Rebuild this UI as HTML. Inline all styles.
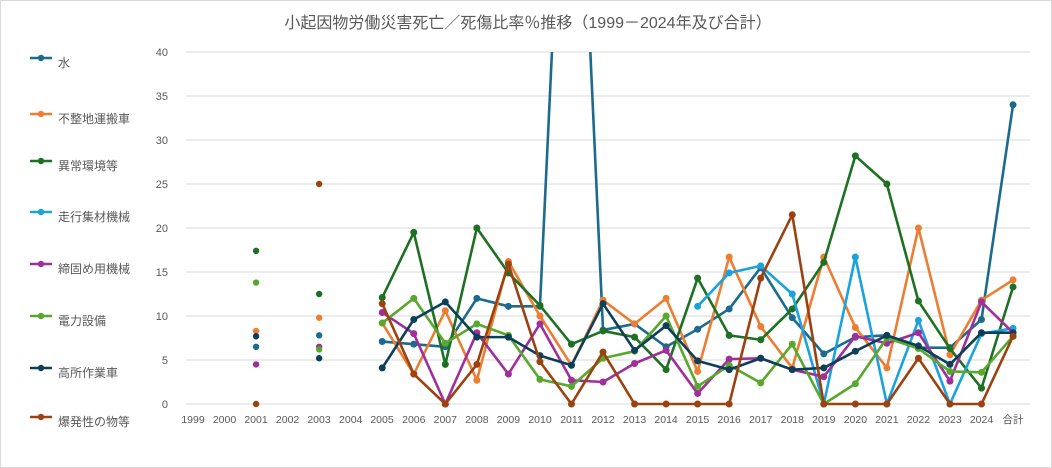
<!DOCTYPE html>
<html><head><meta charset="utf-8"><style>
body{margin:0;background:#fff;}
svg{display:block;font-family:"Liberation Sans","Noto Sans CJK JP",sans-serif;}
</style></head><body>
<svg id="s" width="1052" height="468" viewBox="0 0 1052 468">
<defs><clipPath id="cp"><rect x="0" y="52" width="1052" height="416"/></clipPath></defs>
<rect x="0.5" y="0.5" width="1051" height="467" fill="#fff" stroke="#d9d9d9"/>
<text x="528" y="28" text-anchor="middle" font-size="16" fill="#595959">小起因物労働災害死亡／死傷比率％推移（1999－2024年及び合計）</text>
<g stroke="#d9d9d9" stroke-width="1">
<line x1="186" x2="1030" y1="52" y2="52"/><line x1="186" x2="1030" y1="96" y2="96"/>
<line x1="186" x2="1030" y1="140" y2="140"/><line x1="186" x2="1030" y1="184" y2="184"/>
<line x1="186" x2="1030" y1="228" y2="228"/><line x1="186" x2="1030" y1="272" y2="272"/>
<line x1="186" x2="1030" y1="316" y2="316"/><line x1="186" x2="1030" y1="360" y2="360"/>
<line x1="186" x2="1030" y1="404" y2="404"/>
</g>
<g font-size="11" fill="#595959" text-anchor="end">
<text x="168" y="56">40</text><text x="168" y="100">35</text><text x="168" y="144">30</text>
<text x="168" y="188">25</text><text x="168" y="232">20</text><text x="168" y="276">15</text>
<text x="168" y="320">10</text><text x="168" y="364">5</text><text x="168" y="408">0</text>
</g>
<g font-size="10.5" fill="#595959" text-anchor="middle">
<text x="193" y="423">1999</text><text x="224.5" y="423">2000</text><text x="256" y="423">2001</text>
<text x="287.6" y="423">2002</text><text x="319" y="423">2003</text><text x="350.7" y="423">2004</text>
<text x="382" y="423">2005</text><text x="413.8" y="423">2006</text><text x="445.3" y="423">2007</text>
<text x="476.9" y="423">2008</text><text x="508.4" y="423">2009</text><text x="540" y="423">2010</text>
<text x="571.5" y="423">2011</text><text x="603" y="423">2012</text><text x="634.6" y="423">2013</text>
<text x="666.1" y="423">2014</text><text x="697.6" y="423">2015</text><text x="729.2" y="423">2016</text>
<text x="760.7" y="423">2017</text><text x="792.3" y="423">2018</text><text x="823.8" y="423">2019</text>
<text x="855.4" y="423">2020</text><text x="886.9" y="423">2021</text><text x="918.4" y="423">2022</text>
<text x="950" y="423">2023</text><text x="981.5" y="423">2024</text><text x="1013" y="423">合計</text>
</g>
<g font-size="12" fill="#595959">
<text x="58" y="67">水</text><text x="58" y="123">不整地運搬車</text><text x="58" y="170">異常環境等</text>
<text x="58" y="221">走行集材機械</text><text x="58" y="273">締固め用機械</text><text x="58" y="325">電力設備</text>
<text x="58" y="377">高所作業車</text><text x="58" y="426">爆発性の物等</text>
</g>
<g id="leg"></g>
<g id="lines" clip-path="url(#cp)"></g>
</svg>
<script>
var C=[["#1c6a8e",62],["#ed7d31",118],["#1e7023",165],["#1aa3dc",216],["#9e2f9b",268],["#57a82c",320],["#0d3e5a",372],["#9c4210",421]];
var S=[
{p:{2:6.5,4:7.8},l:[7.1,6.8,6.5,12,11.1,11.1,87,8.4,9.1,6.5,8.5,10.8,15.5,9.8,5.7,7.6,7.8,6.4,6.4,9.6,34]},
{p:{2:8.3,4:9.8},l:[9.2,3.4,10.6,2.7,16.2,10,4.4,11.8,9.1,12,3.7,16.7,8.8,4.1,16.7,8.7,4.1,20,5.6,11.8,14.1]},
{p:{2:17.4,4:12.5},l:[12.1,19.5,4.5,20,14.9,11.2,6.8,8.3,7.6,3.9,14.3,7.8,7.3,10.8,16.1,28.2,25,11.7,6.3,1.8,13.3]},
{p:{},l:[null,null,null,null,null,null,null,null,null,null,11.1,14.9,15.7,12.5,0,16.7,0,9.5,0,8,8.6]},
{p:{2:4.5,4:6.5},l:[10.4,8,0,8.1,3.4,9.1,2.7,2.5,4.6,6.1,1.2,5.1,5.2,3.9,3.1,7.7,6.9,8.1,2.6,11.6,8.1]},
{p:{2:13.8,4:6.2},l:[9.2,12,6.9,9.1,7.8,2.8,2,5.2,6,10,2,4.4,2.4,6.8,0,2.3,7.5,6.3,3.7,3.6,7.7]},
{p:{2:7.7,4:5.2},l:[4.1,9.6,11.6,7.6,7.6,5.5,4.4,11.4,6.1,8.9,4.9,3.9,5.2,3.9,4.1,6,7.8,6.6,4.5,8.1,8.1]},
{p:{2:0,4:25},l:[11.4,3.4,0,4.5,15.9,4.8,0,5.9,0,0,0,0,14.3,21.5,0,0,0,5.2,0,0,7.7]}];
var g=document.getElementById("lines"),h="",lg="";
function X(i){return 193+31.54*i}function Y(v){return 404-8.8*v}
S.forEach(function(s,k){var c=C[k][0];
 lg+='<line x1="30" x2="52" y1="'+(C[k][1]-4)+'" y2="'+(C[k][1]-4)+'" stroke="'+c+'" stroke-width="2.5"/><circle cx="41" cy="'+(C[k][1]-4)+'" r="3.2" fill="'+c+'"/>';
 var pts=[],dots="";
 for(var i in s.p){dots+='<circle cx="'+X(+i)+'" cy="'+Y(s.p[i])+'" r="3.2" fill="'+c+'"/>';}
 s.l.forEach(function(v,j){if(v===null)return;var x=X(6+j),y=Y(v);pts.push(x+","+y);if(v<40)dots+='<circle cx="'+x+'" cy="'+y+'" r="3.5" fill="'+c+'"/>';});
 h+='<polyline points="'+pts.join(" ")+'" fill="none" stroke="'+c+'" stroke-width="2.6" stroke-linejoin="round"/>'+dots;
});
g.innerHTML=h;document.getElementById("leg").innerHTML=lg;
</script>
</body></html>
